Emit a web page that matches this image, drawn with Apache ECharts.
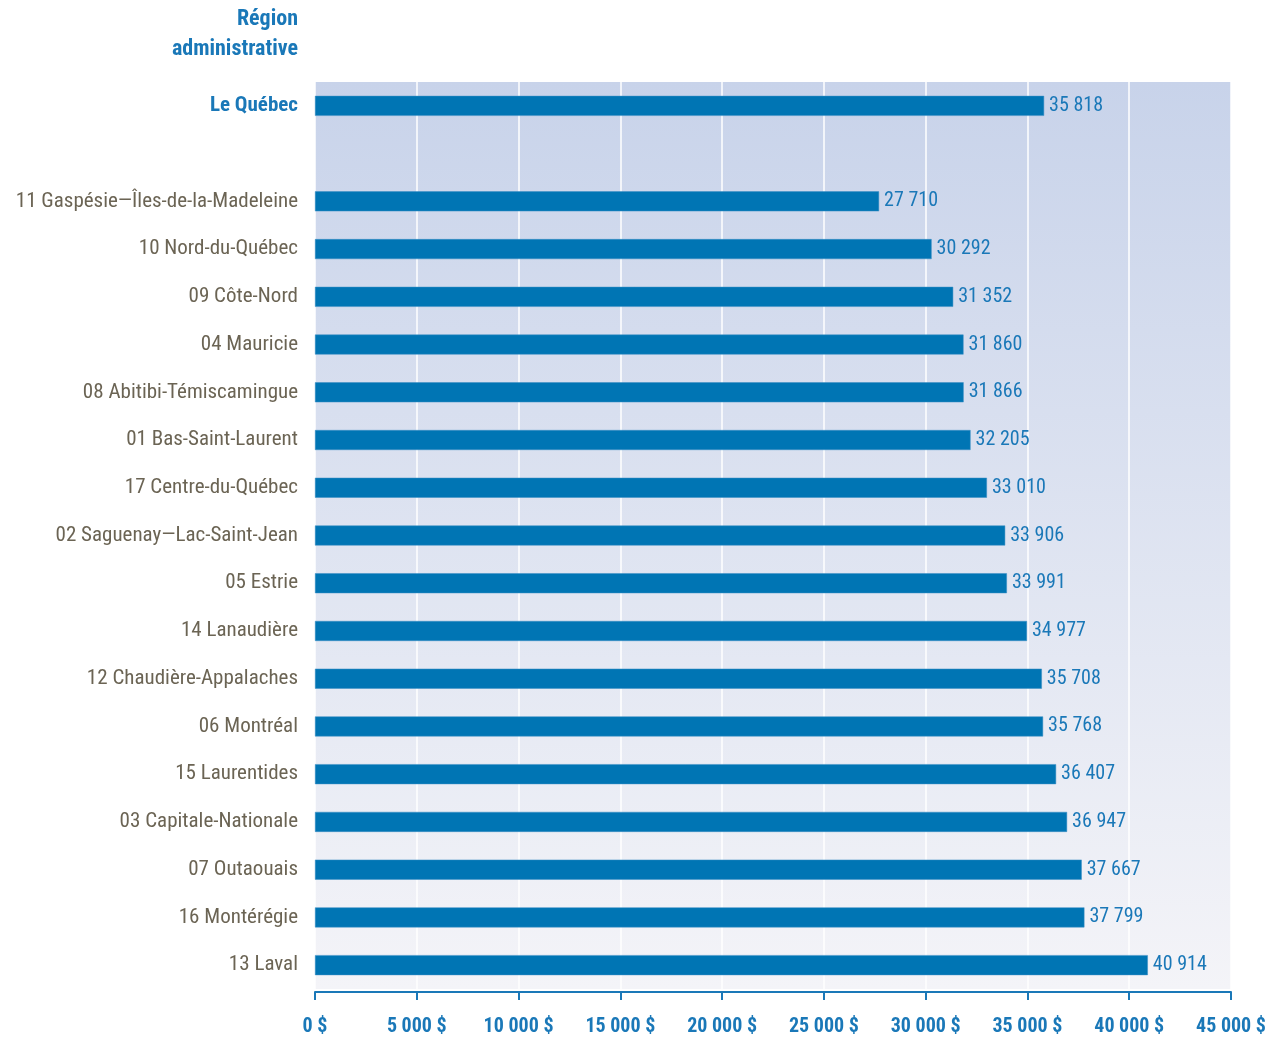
<!DOCTYPE html>
<html><head><meta charset="utf-8">
<script src="https://cdn.jsdelivr.net/npm/echarts@6/dist/echarts.min.js"></script>
<style>html,body{margin:0;padding:0;background:#fff}#c{width:1278px;height:1038px}</style>
</head><body><div id="c"></div>
<script>
const categories = ['Le Québec', '', '11 Gaspésie—Îles-de-la-Madeleine', '10 Nord-du-Québec', '09 Côte-Nord', '04 Mauricie', '08 Abitibi-Témiscamingue', '01 Bas-Saint-Laurent', '17 Centre-du-Québec', '02 Saguenay—Lac-Saint-Jean', '05 Estrie', '14 Lanaudière', '12 Chaudière-Appalaches', '06 Montréal', '15 Laurentides', '03 Capitale-Nationale', '07 Outaouais', '16 Montérégie', '13 Laval'];
const values = [35818, null, 27710, 30292, 31352, 31860, 31866, 32205, 33010, 33906, 33991, 34977, 35708, 35768, 36407, 36947, 37667, 37799, 40914];
const xTicks = [0, 5000, 10000, 15000, 20000, 25000, 30000, 35000, 40000, 45000];

const FONT = '"Liberation Sans Narrow", "Arial Narrow", "Roboto Condensed", sans-serif';
const fmt = v => String(v).replace(/\B(?=(\d{3})+(?!\d))/g, ' ');
const chart = echarts.init(document.getElementById('c'), null, {renderer: 'canvas'});
chart.setOption({
  animation: false,
  graphic: [{
    type: 'text', x: 298, y: 4,
    style: {
      text: 'Région\nadministrative', align: 'right', verticalAlign: 'top',
      font: 'bold 22px ' + FONT, fill: '#1a78b8', lineHeight: 30
    }
  }],
  grid: {
    left: 315, right: 47, top: 82, bottom: 49,
    show: true, borderWidth: 0,
    backgroundColor: new echarts.graphic.LinearGradient(0, 0, 0, 1, [
      {offset: 0, color: '#c8d3ea'}, {offset: 1, color: '#f4f4f8'}
    ])
  },
  xAxis: {
    type: 'value', min: xTicks[0], max: xTicks[xTicks.length - 1], interval: xTicks[1] - xTicks[0],
    offset: 3,
    axisLine: {show: true, lineStyle: {color: '#1a78b8', width: 2}},
    axisTick: {show: true, length: 8, lineStyle: {color: '#1a78b8', width: 2}},
    splitLine: {show: true, lineStyle: {color: '#ffffff', width: 1.5}},
    axisLabel: {
      margin: 25, fontFamily: FONT, fontWeight: 'bold', fontSize: 20, color: '#1a78b8',
      formatter: v => fmt(v) + ' $'
    }
  },
  yAxis: {
    type: 'category', data: categories, inverse: true,
    axisLine: {show: false}, axisTick: {show: false}, splitLine: {show: false},
    axisLabel: {
      margin: 17, fontFamily: FONT, fontSize: 21, color: '#6b6454',
      formatter: (v, i) => i === 0 ? '{q|' + v + '}' : v,
      rich: {q: {fontFamily: FONT, fontSize: 21, fontWeight: 'bold', color: '#1a78b8'}}
    }
  },
  series: [{
    type: 'bar', data: values, barWidth: 20,
    itemStyle: {color: '#0075b4', borderColor: '#3a8fc4', borderWidth: 0.5},
    label: {
      show: true, position: 'right', distance: 5,
      fontFamily: FONT, fontSize: 20, color: '#1a78b8',
      formatter: p => fmt(p.value)
    }
  }]
});
</script></body></html>
